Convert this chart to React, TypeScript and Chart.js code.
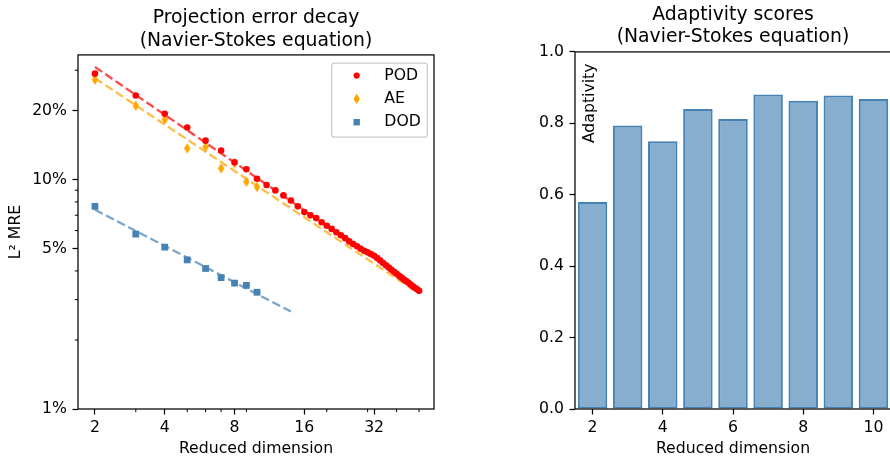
import React, { useEffect, useRef } from 'react';
import { Chart, registerables } from 'chart.js';

Chart.register(...registerables);

// ---------------- data ----------------
const podDims = [2, 3, 4, 5, 6, 7, 8, 9, 10, 11, 12, 13, 14, 15, 16, 17, 18, 19, 20, 21, 22, 23, 24, 25, 26, 27, 28, 29, 30, 31, 32, 33, 34, 35, 36, 37, 38, 39, 40, 41, 42, 43, 44, 45, 46, 47, 48, 49, 50];
const podErrors = [29.0, 23.3, 19.4, 16.9, 14.8, 13.4, 11.9, 11.1, 10.1, 9.48, 8.98, 8.54, 8.11, 7.65, 7.22, 7.0, 6.8, 6.52, 6.3, 6.1, 5.9, 5.72, 5.56, 5.38, 5.24, 5.12, 5.0, 4.9, 4.82, 4.74, 4.66, 4.55, 4.44, 4.33, 4.23, 4.14, 4.05, 3.97, 3.89, 3.81, 3.74, 3.67, 3.61, 3.55, 3.49, 3.43, 3.38, 3.33, 3.28];
const aeDims = [2, 3, 4, 5, 6, 7, 8, 9, 10];
const aeErrors = [27.3, 21.0, 18.3, 13.7, 13.9, 11.2, 11.8, 9.8, 9.3];
const dodDims = [2, 3, 4, 5, 6, 7, 8, 9, 10];
const dodErrors = [7.65, 5.79, 5.08, 4.47, 4.1, 3.74, 3.54, 3.46, 3.23];
const podFitDims = [2, 50];
const podFit = [31.0, 3.34];
const aeFitDims = [2, 50];
const aeFit = [27.7, 3.19];
const dodFitDims = [2, 14];
const dodFit = [7.4, 2.66];
const errXTicks = [2, 4, 8, 16, 32];
const errXMinor = [3, 5, 6, 7, 9, 20, 30, 40, 50];
const errYTicks = [1, 5, 10, 20];
const errYMinor = [2, 3, 4, 6, 7, 8, 9, 30];

const adaptDims = [2, 3, 4, 5, 6, 7, 8, 9, 10];
const adaptScores = [0.58, 0.794, 0.75, 0.84, 0.812, 0.881, 0.863, 0.878, 0.868];
const adaptXTicks = [2, 4, 6, 8, 10];
const adaptYTicks = [0, 0.2, 0.4, 0.6, 0.8, 1.0];

// ---------------- style ----------------
const FAMILY = '"DejaVu Sans", sans-serif';
const INK = '#000000';
const FS = 15.7;
const tickFont = { family: FAMILY, size: FS, weight: 'normal' as const, lineHeight: 1.2 };
const titleFont = { family: FAMILY, size: 18.8, weight: 'normal' as const, lineHeight: 1.2 };

const pts = (xs: number[], ys: number[]) => xs.map((x, i) => ({ x, y: ys[i] }));

function makeThinDiamond(color: string): HTMLCanvasElement {
  const c = document.createElement('canvas');
  c.width = 8;
  c.height = 11;
  const g = c.getContext('2d')!;
  g.fillStyle = color;
  g.beginPath();
  g.moveTo(4, 0.3);
  g.lineTo(7.2, 5.5);
  g.lineTo(4, 10.7);
  g.lineTo(0.8, 5.5);
  g.closePath();
  g.fill();
  return c;
}

function drawMarker(ctx: CanvasRenderingContext2D, style: any, color: string, x: number, y: number) {
  ctx.fillStyle = color;
  ctx.beginPath();
  if (style === 'circle') {
    ctx.arc(x, y, 3.1, 0, Math.PI * 2);
  } else if (style === 'rect') {
    ctx.rect(x - 3.2, y - 3.2, 6.4, 6.4);
  } else {
    ctx.moveTo(x, y - 5.2);
    ctx.lineTo(x + 3.2, y);
    ctx.lineTo(x, y + 5.2);
    ctx.lineTo(x - 3.2, y);
    ctx.closePath();
  }
  ctx.fill();
}

const framePlugin = {
  id: 'frame',
  afterDraw(chart: any) {
    const { ctx, chartArea } = chart;
    const { left, top, right, bottom } = chartArea;
    ctx.save();
    ctx.strokeStyle = INK;
    ctx.lineWidth = 1.25;
    ctx.strokeRect(left, top, right - left, bottom - top);
    ctx.restore();
  },
};

const minorTicksPlugin = {
  id: 'minorTicks',
  afterDraw(chart: any, _a: any, opts: any) {
    if (!opts || !opts.x) return;
    const { ctx, chartArea, scales } = chart;
    ctx.save();
    ctx.strokeStyle = INK;
    ctx.lineWidth = 1;
    ctx.beginPath();
    for (const v of opts.x) {
      const px = scales.x.getPixelForValue(v);
      if (px < chartArea.left || px > chartArea.right) continue;
      ctx.moveTo(px, chartArea.bottom);
      ctx.lineTo(px, chartArea.bottom + 3.1);
    }
    for (const v of opts.y) {
      const py = scales.y.getPixelForValue(v);
      if (py < chartArea.top || py > chartArea.bottom) continue;
      ctx.moveTo(chartArea.left, py);
      ctx.lineTo(chartArea.left - 3.1, py);
    }
    ctx.stroke();
    ctx.restore();
  },
};

const boxLegendPlugin = {
  id: 'boxLegend',
  afterDraw(chart: any, _a: any, opts: any) {
    if (!opts || !opts.show) return;
    const { ctx, chartArea } = chart;
    const w = 95.6;
    const h = 74;
    const x0 = chartArea.right - 6.7 - w;
    const y0 = chartArea.top + 8.3;
    ctx.save();
    ctx.beginPath();
    if ((ctx as any).roundRect) (ctx as any).roundRect(x0, y0, w, h, 3);
    else ctx.rect(x0, y0, w, h);
    ctx.fillStyle = 'rgba(255,255,255,0.8)';
    ctx.fill();
    ctx.strokeStyle = '#cccccc';
    ctx.lineWidth = 1.25;
    ctx.stroke();
    const ds = chart.data.datasets.slice(0, opts.count);
    ds.forEach((d: any, i: number) => {
      const cy = y0 + 12.4 + i * 23.3;
      drawMarker(ctx, d.legendMarker, d.backgroundColor, x0 + 25, cy);
      ctx.fillStyle = INK;
      ctx.font = `${FS}px ${FAMILY}`;
      ctx.textAlign = 'left';
      ctx.textBaseline = 'middle';
      ctx.fillText(d.label, x0 + 52.6, cy);
    });
    ctx.restore();
  },
};

const innerLabelPlugin = {
  id: 'innerLabel',
  afterDraw(chart: any, _a: any, opts: any) {
    if (!opts || !opts.text) return;
    const { ctx, chartArea } = chart;
    ctx.save();
    ctx.translate(chartArea.left + opts.dx, opts.cy);
    ctx.rotate(-Math.PI / 2);
    ctx.fillStyle = INK;
    ctx.font = `${FS}px ${FAMILY}`;
    ctx.textAlign = 'center';
    ctx.textBaseline = 'middle';
    ctx.fillText(opts.text, 0, 0);
    ctx.restore();
  },
};

function ErrorChart() {
  const ref = useRef<HTMLCanvasElement>(null);
  useEffect(() => {
    const diamond = makeThinDiamond('#ffa500');
    const chart = new Chart(ref.current!, {
      type: 'scatter',
      data: {
        datasets: [
          {
            label: 'POD',
            data: pts(podDims, podErrors),
            pointStyle: 'circle',
            legendMarker: 'circle',
            pointRadius: 3.3,
            pointBorderWidth: 0,
            backgroundColor: '#ff0000',
            borderColor: '#ff0000',
            order: 1,
          } as any,
          {
            label: 'AE',
            data: pts(aeDims, aeErrors),
            pointStyle: diamond,
            legendMarker: 'diamond',
            pointRadius: 5,
            pointBorderWidth: 0,
            backgroundColor: '#ffa500',
            borderColor: '#ffa500',
            order: 2,
          } as any,
          {
            label: 'DOD',
            data: pts(dodDims, dodErrors),
            pointStyle: 'rect',
            legendMarker: 'rect',
            pointRadius: 4.8,
            pointBorderWidth: 0,
            backgroundColor: '#4682b4',
            borderColor: '#4682b4',
            order: 3,
          } as any,
          {
            label: 'POD fit',
            data: pts(podFitDims, podFit),
            showLine: true,
            fill: false,
            borderColor: 'rgba(255,0,0,0.72)',
            borderDash: [8.7, 3.8],
            borderWidth: 2.3,
            pointRadius: 0,
            pointHitRadius: 0,
            order: 4,
          } as any,
          {
            label: 'AE fit',
            data: pts(aeFitDims, aeFit),
            showLine: true,
            fill: false,
            borderColor: 'rgba(255,165,0,0.72)',
            borderDash: [8.7, 3.8],
            borderWidth: 2.3,
            pointRadius: 0,
            pointHitRadius: 0,
            order: 5,
          } as any,
          {
            label: 'DOD fit',
            data: pts(dodFitDims, dodFit),
            showLine: true,
            fill: false,
            borderColor: 'rgba(70,130,180,0.72)',
            borderDash: [8.7, 3.8],
            borderWidth: 2.3,
            pointRadius: 0,
            pointHitRadius: 0,
            order: 6,
          } as any,
        ],
      },
      options: {
        animation: false,
        responsive: false,
        events: [],
        layout: { padding: { left: 0, right: 11, top: 0, bottom: 0 } },
        plugins: {
          legend: { display: false },
          tooltip: { enabled: false },
          title: {
            display: true,
            fullSize: false,
            text: ['Projection error decay', '(Navier-Stokes equation)'],
            color: INK,
            font: titleFont,
            padding: { top: 7, bottom: 2.8 },
          },
          minorTicks: { x: errXMinor, y: errYMinor },
          boxLegend: { show: true, count: 3 },
        } as any,
        scales: {
          x: {
            type: 'logarithmic',
            min: 1.69,
            max: 58,
            afterBuildTicks: (s: any) => {
              s.ticks = errXTicks.map((v) => ({ value: v }));
            },
            ticks: {
              callback: (v: any) => String(v),
              font: tickFont,
              color: INK,
              padding: 3.6,
              autoSkip: false,
              maxRotation: 0,
            },
            grid: { drawOnChartArea: false, tickLength: 5.5, tickWidth: 1.25, tickColor: INK },
            border: { display: false },
            title: {
              display: true,
              text: 'Reduced dimension',
              color: INK,
              font: tickFont,
              padding: { top: 0, bottom: 2.6 },
            },
            afterFit: (s: any) => {
              s.height = 52;
            },
          },
          y: {
            type: 'logarithmic',
            min: 1,
            max: 35,
            afterBuildTicks: (s: any) => {
              s.ticks = errYTicks.map((v) => ({ value: v }));
            },
            ticks: {
              callback: (v: any) => `${v}%`,
              font: tickFont,
              color: INK,
              padding: 5.5,
              autoSkip: false,
            },
            grid: { drawOnChartArea: false, tickLength: 5.5, tickWidth: 1.25, tickColor: INK },
            border: { display: false },
            title: {
              display: true,
              text: 'L² MRE',
              color: INK,
              font: tickFont,
              padding: { top: 6.6, bottom: 0 },
            },
            afterFit: (s: any) => {
              s.width = 78;
            },
          },
        } as any,
      },
      plugins: [framePlugin, minorTicksPlugin, boxLegendPlugin],
    } as any);
    return () => chart.destroy();
  }, []);
  return (
    <canvas ref={ref} width={445} height={461} style={{ position: 'absolute', left: 0, top: 0 }} />
  );
}

function AdaptChart() {
  const ref = useRef<HTMLCanvasElement>(null);
  useEffect(() => {
    const chart = new Chart(ref.current!, {
      type: 'bar',
      data: {
        datasets: [
          {
            label: 'Adaptivity',
            data: pts(adaptDims, adaptScores),
            backgroundColor: 'rgba(70,130,180,0.65)',
            borderColor: '#4682b4',
            borderWidth: 2,
            borderSkipped: false,
            barPercentage: 0.84,
            categoryPercentage: 1,
          } as any,
        ],
      },
      options: {
        animation: false,
        responsive: false,
        events: [],
        layout: { padding: 0 },
        plugins: {
          legend: { display: false },
          tooltip: { enabled: false },
          title: {
            display: true,
            fullSize: false,
            text: ['Adaptivity scores', '(Navier-Stokes equation)'],
            color: INK,
            font: titleFont,
            padding: { top: 3.5, bottom: 3.3 },
          },
          innerLabel: { text: 'Adaptivity', dx: 15, cy: 103.3 },
        } as any,
        scales: {
          x: {
            type: 'linear',
            min: 1.5,
            max: 10.5,
            offset: false,
            afterBuildTicks: (s: any) => {
              s.ticks = adaptXTicks.map((v) => ({ value: v }));
            },
            ticks: {
              callback: (v: any) => String(v),
              font: tickFont,
              color: INK,
              padding: 3.6,
              autoSkip: false,
              maxRotation: 0,
            },
            grid: { offset: false, drawOnChartArea: false, tickLength: 5.5, tickWidth: 1.25, tickColor: INK },
            border: { display: false },
            title: {
              display: true,
              text: 'Reduced dimension',
              color: INK,
              font: tickFont,
              padding: { top: 0, bottom: 2.6 },
            },
            afterFit: (s: any) => {
              s.height = 52;
            },
          },
          y: {
            type: 'linear',
            min: 0,
            max: 1,
            afterBuildTicks: (s: any) => {
              s.ticks = adaptYTicks.map((v) => ({ value: v }));
            },
            ticks: {
              callback: (v: any) => Number(v).toFixed(1),
              font: tickFont,
              color: INK,
              padding: 5.5,
              autoSkip: false,
            },
            grid: { drawOnChartArea: false, tickLength: 5.5, tickWidth: 1.25, tickColor: INK },
            border: { display: false },
            afterFit: (s: any) => {
              s.width = 130;
            },
          },
        } as any,
      },
      plugins: [framePlugin, innerLabelPlugin],
    } as any);
    return () => chart.destroy();
  }, []);
  return (
    <canvas ref={ref} width={446} height={461} style={{ position: 'absolute', left: 445, top: 0 }} />
  );
}

export default function App() {
  return (
    <div
      style={{
        position: 'absolute',
        left: 0,
        top: 0,
        width: 890,
        height: 461,
        overflow: 'hidden',
        background: '#ffffff',
      }}
    >
      <ErrorChart />
      <AdaptChart />
    </div>
  );
}
